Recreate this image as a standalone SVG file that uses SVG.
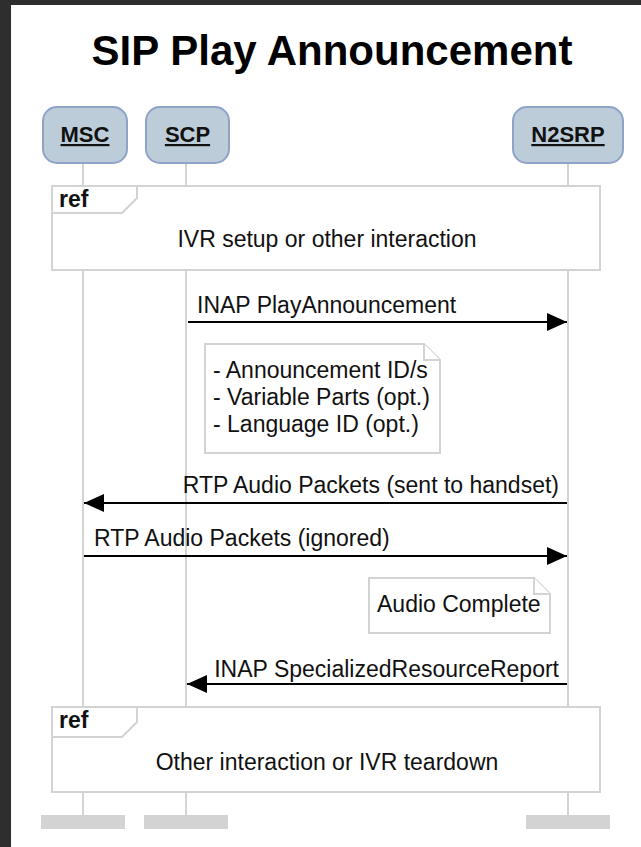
<svg xmlns="http://www.w3.org/2000/svg" width="641" height="847" viewBox="0 0 641 847">
<defs>
<style>
text{font-family:"Liberation Sans",Arial,Helvetica,sans-serif;fill:#111}
.title{font-size:42px;font-weight:bold;text-anchor:middle;fill:#000}
.pbox{fill:#bccdd9;stroke:#8fa3c9;stroke-width:2}
.plabel{font-size:22px;font-weight:bold;text-anchor:middle;text-decoration:underline}
.life{stroke:#d3d3d3;stroke-width:2;fill:none}
.bar{fill:#d3d3d3}
.frame{fill:#fff;stroke:#d3d3d3;stroke-width:2}
.reflbl{font-size:23px;font-weight:bold}
.reftxt{font-size:23px;text-anchor:middle}
.msg{stroke:#000;stroke-width:2;fill:none}
.mlbl{font-size:23px}
.note{fill:#fff;stroke:#d3d3d3;stroke-width:2}
.ntxt{font-size:23px}
</style>
<marker id="ah" viewBox="0 0 20 18" refX="20" refY="9" markerWidth="20" markerHeight="18" markerUnits="userSpaceOnUse" orient="auto">
<path d="M0,0 L20,9 L0,18 Z" fill="#000"/>
</marker>
</defs>
<rect x="0" y="0" width="641" height="847" fill="#2e2e2e"/>
<rect x="11" y="5" width="630" height="842" fill="#fff"/>
<text class="title" x="332" y="65">SIP Play Announcement</text>

<g id="lifelines">
<line class="life" x1="83" y1="163" x2="83" y2="815"/>
<line class="life" x1="186" y1="163" x2="186" y2="815"/>
<line class="life" x1="568" y1="163" x2="568" y2="815"/>
<rect class="bar" x="41" y="815" width="84" height="14"/>
<rect class="bar" x="144" y="815" width="84" height="14"/>
<rect class="bar" x="526" y="815" width="84" height="14"/>
</g>

<g id="MSC">
<rect class="pbox" x="43" y="107" width="84" height="56" rx="14"/>
<text class="plabel" x="85" y="142">MSC</text>
</g>
<g id="SCP">
<rect class="pbox" x="146" y="107" width="83" height="56" rx="14"/>
<text class="plabel" x="187.5" y="142">SCP</text>
</g>
<g id="N2SRP">
<rect class="pbox" x="513" y="107" width="110" height="56" rx="14"/>
<text class="plabel" x="568" y="142">N2SRP</text>
</g>

<g id="ref1">
<rect class="frame" x="52" y="186" width="548" height="84"/>
<path class="frame" d="M52,186 L137,186 L137,198 L122,213 L52,213 Z" fill="none"/>
<text class="reflbl" x="59" y="207">ref</text>
<text class="reftxt" x="327" y="247">IVR setup or other interaction</text>
</g>

<g id="note1">
<path class="note" d="M205,344 L424,344 L440,360 L440,453 L205,453 Z"/>
<path class="note" d="M424,344 L424,360 L440,360" fill="none"/>
<text class="ntxt" x="213" y="378">- Announcement ID/s</text>
<text class="ntxt" x="213" y="405">- Variable Parts (opt.)</text>
<text class="ntxt" x="213" y="432">- Language ID (opt.)</text>
</g>

<g id="note2">
<path class="note" d="M369,578 L534,578 L550,594 L550,633 L369,633 Z"/>
<path class="note" d="M534,578 L534,594 L550,594" fill="none"/>
<text class="ntxt" x="377" y="612">Audio Complete</text>
</g>

<g id="ref2">
<rect class="frame" x="52" y="707" width="548" height="85"/>
<path class="frame" d="M52,707 L137,707 L137,722 L122,737 L52,737 Z" fill="none"/>
<text class="reflbl" x="59" y="728">ref</text>
<text class="reftxt" x="327" y="770">Other interaction or IVR teardown</text>
</g>

<g id="connectors">
<line class="msg" x1="188" y1="322" x2="567" y2="322" marker-end="url(#ah)"/>
<text class="mlbl" x="197" y="313">INAP PlayAnnouncement</text>
<line class="msg" x1="567" y1="503" x2="84" y2="503" marker-end="url(#ah)"/>
<text class="mlbl" x="559" y="493" text-anchor="end">RTP Audio Packets (sent to handset)</text>
<line class="msg" x1="84" y1="556" x2="567" y2="556" marker-end="url(#ah)"/>
<text class="mlbl" x="94" y="546">RTP Audio Packets (ignored)</text>
<line class="msg" x1="567" y1="684" x2="187" y2="684" marker-end="url(#ah)"/>
<text class="mlbl" x="559" y="677" text-anchor="end">INAP SpecializedResourceReport</text>
</g>
</svg>
